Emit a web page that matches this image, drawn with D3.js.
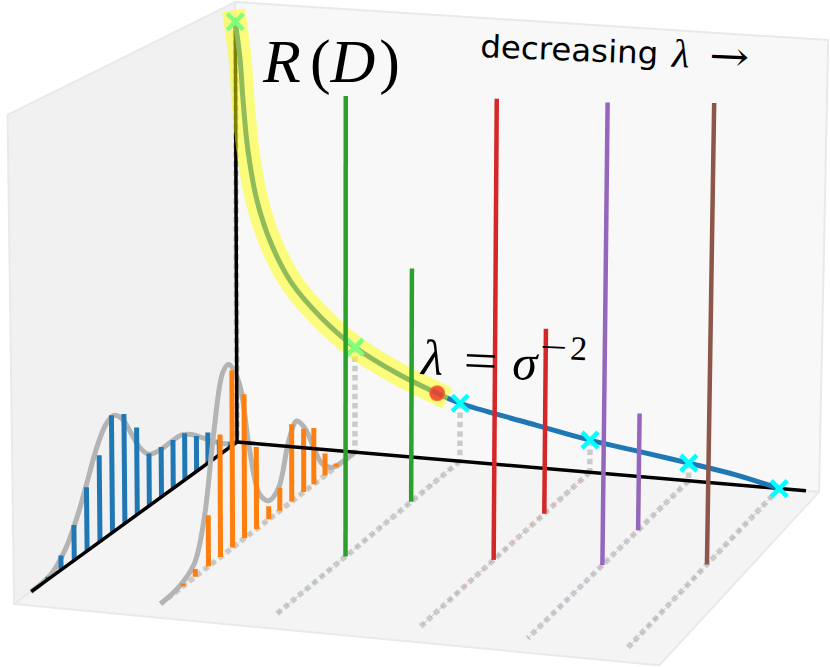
<!DOCTYPE html>
<html><head><meta charset="utf-8">
<script src="https://cdn.jsdelivr.net/npm/d3@7"></script>
<style>body{margin:0;background:#fff}svg{display:block}</style>
</head><body>
<svg id="chart" width="830" height="667"></svg>
<script>
// ---------------- data ----------------
// rate-distortion curve R(D)
const rdD = [0, 0.0087, 0.0138, 0.0226, 0.039, 0.0667, 0.104, 0.160, 0.222, 0.300, 0.3748, 0.4174, 0.532, 0.6565, 0.7512, 0.8364, 0.923, 1.0];
const rdR = [1.0, 0.911, 0.8175, 0.700, 0.5836, 0.4793, 0.3924, 0.3145, 0.2516, 0.1976, 0.1577, 0.1384, 0.1078, 0.0764, 0.0584, 0.0418, 0.0232, 0];
// cyan markers on the curve (one per reconstruction distribution)
const markD = [0, 0.222, 0.4174, 0.6565, 0.8364, 1.0];
const markR = [1.0, 0.2516, 0.1384, 0.0764, 0.0418, 0];
// highlighted optimum lambda = sigma^-2
const optD = [0.3748];
const optR = [0.1577];
// source distribution (blue) at D = 0
const srcPos  = [0.035,0.094,0.154,0.213,0.273,0.332,0.391,0.451,0.510,0.570,0.629,0.688,0.748,0.807,0.867,0.926];
const srcProb = [0.011,0.037,0.073,0.084,0.110,0.113,0.116,0.121,0.200,0.250,0.266,0.195,0.143,0.079,0.032,0.006];
const srcKdePos = [0,0.021,0.075,0.129,0.183,0.236,0.290,0.344,0.397,0.451,0.494,0.537,0.580,0.618,0.655,0.698,0.741,0.789,0.849,0.913,1.0];
const srcKdeVal = [0,0.004,0.021,0.044,0.070,0.095,0.111,0.112,0.111,0.119,0.148,0.196,0.243,0.262,0.254,0.217,0.159,0.095,0.037,0.006,0];
// reconstruction (orange) at second marker
const recPos  = [0.106,0.168,0.229,0.284,0.348,0.411,0.469,0.532,0.593,0.653,0.713,0.772,0.836,0.894];
const recProb = [0.008,0.052,0.132,0.148,0.179,0.053,0.030,0.187,0.326,0.398,0.274,0.114,0.017,0.006];
const recKdePos = [0,0.073,0.129,0.185,0.229,0.278,0.321,0.364,0.417,0.469,0.516,0.567,0.618,0.669,0.698,0.743,0.792,0.841,0.917,1.0];
const recKdeVal = [0,0,0.006,0.034,0.086,0.148,0.178,0.145,0.055,0.043,0.074,0.195,0.360,0.416,0.407,0.289,0.113,0.030,0.005,0];
// spike reconstructions for decreasing lambda
const greenPos = [0.2853, 0.6455],  greenProb = [0.539, 1.018];
const redPos = [0.2866, 0.5875],    redProb = [0.4255, 1.0185];
const purplePos = [0.3365, 0.5613], purpleProb = [0.2667, 1.020];
const brownPos = [0.5032],          brownProb = [1.019];
const distColors = ['#ff7f0e', '#2ca02c', '#d62728', '#9467bd', '#8c564b'];

// ---------------- projection ----------------
const cam = {o:[237,442,1], u:[559.1,36.2,-0.028], v:[-224.36,98.7,-0.1048], w:[-6,-440,-0.018]};
function proj(u,v,w){
  const X = cam.o[0]+cam.u[0]*u+cam.v[0]*v+cam.w[0]*w;
  const Y = cam.o[1]+cam.u[1]*u+cam.v[1]*v+cam.w[1]*w;
  const W = cam.o[2]+cam.u[2]*u+cam.v[2]*v+cam.w[2]*w;
  return [X/W, Y/W];
}
const sD = d3.scaleLinear().domain([0,1]).range([0,0.9334]);
const sY = d3.scaleLinear().domain([0,1]).range([0,0.931]);
const sR = d3.scaleLinear().domain([0,1]).range([0,0.956]);
const P = (d,y,r) => proj(sD(d), sY(y), sR(r));

const svg = d3.select('#chart');
const line = d3.line();
const smooth = d3.line().curve(d3.curveCatmullRom.alpha(0.5));

// panes
const panes = [
  {pts:[[0,0,0],[0,1,0],[0,1,1],[0,0,1]], fill:'#f1f1f1'},
  {pts:[[0,0,0],[1,0,0],[1,0,1],[0,0,1]], fill:'#f8f8f8'},
  {pts:[[0,0,0],[1,0,0],[1,1,0],[0,1,0]], fill:'#f4f4f4'}
];
svg.selectAll('path.pane').data(panes).join('path')
  .attr('d', p => line(p.pts.map(q => proj(q[0],q[1],q[2]))) + 'Z')
  .attr('fill', p => p.fill).attr('stroke', '#e9e9e9').attr('stroke-width', 2).attr('stroke-linejoin','round');

// depth baselines (dotted) for reconstruction distributions
const baseD = markD.slice(1);
svg.selectAll('path.base').data(baseD).join('path')
  .attr('d', d => line([P(d,0,0), P(d,1,0)]))
  .attr('fill','none').attr('stroke','#cbcbcb').attr('stroke-width',5.5).attr('stroke-dasharray','5.5,3.8');
svg.selectAll('path.basec').data(baseD).join('path')
  .attr('d', d => line([P(d,0,0), P(d,1,0)]))
  .attr('fill','none').attr('stroke',(d,i)=>distColors[i]).attr('stroke-opacity',0.3)
  .attr('stroke-width',1).attr('stroke-dasharray','6,5');

// vertical dotted drops from markers
svg.selectAll('path.drop').data(markD.map((d,i)=>[d,markR[i]]).filter(p=>p[1]>0)).join('path')
  .attr('d', p => line([P(p[0],0,p[1]), P(p[0],0,0)]))
  .attr('fill','none').attr('stroke','#cbcbcb').attr('stroke-width',5.5).attr('stroke-dasharray','5.5,3.8');

// source KDE + bars
svg.append('path').attr('d', smooth(srcKdePos.map((y,i)=>P(0,y,srcKdeVal[i]))))
  .attr('fill','none').attr('stroke','#b4b4b4').attr('stroke-width',5);
svg.selectAll('path.src').data(srcPos).join('path')
  .attr('d',(y,i)=>line([P(0,y,0),P(0,y,srcProb[i])]))
  .attr('stroke','#1f77b4').attr('stroke-width',5);
svg.append('path').attr('d', line([P(0,0,0),P(0,1,0)]))
  .attr('stroke','#000').attr('stroke-width',3.5);

// reconstruction KDE + bars
const dRec = markD[1];
svg.append('path').attr('d', smooth(recKdePos.map((y,i)=>P(dRec,y,recKdeVal[i]))))
  .attr('fill','none').attr('stroke','#b4b4b4').attr('stroke-width',5);
svg.selectAll('path.rec').data(recPos).join('path')
  .attr('d',(y,i)=>line([P(dRec,y,0),P(dRec,y,recProb[i])]))
  .attr('stroke','#ff7f0e').attr('stroke-width',5);

// axes
svg.append('path').attr('d', line([P(0,0,0),P(1.048,0,0)])).attr('stroke','#000').attr('stroke-width',3.5);
svg.append('path').attr('d', line([P(0,0,0),P(0,0,1.009)])).attr('stroke','#000').attr('stroke-width',3.5);

// R(D) curve
svg.append('path').attr('d', smooth(rdD.map((d,i)=>P(d,0,rdR[i]))))
  .attr('fill','none').attr('stroke','#1f77b4').attr('stroke-width',5);

// markers
const xs = 8;
svg.selectAll('path.mk').data(markD.map((d,i)=>P(d,0,markR[i]))).join('path')
  .attr('d', p => `M${p[0]-xs},${p[1]-xs}L${p[0]+xs},${p[1]+xs}M${p[0]-xs},${p[1]+xs}L${p[0]+xs},${p[1]-xs}`)
  .attr('stroke','#00ffff').attr('stroke-width',4.5).attr('fill','none');

// yellow highlight
const hiIdx = rdD.map((d,i)=>i).filter(i => rdD[i] <= optD[0]);
svg.append('path').attr('d', smooth(hiIdx.map(i=>P(rdD[i],0,rdR[i]))))
  .attr('fill','none').attr('stroke','#ffff00').attr('stroke-opacity',0.5)
  .attr('stroke-width',23).attr('stroke-linecap','square');

// optimum dot
const op = P(optD[0],0,optR[0]);
svg.append('circle').attr('cx',op[0]).attr('cy',op[1]).attr('r',7)
  .attr('fill','#e8302a').attr('fill-opacity',0.8).attr('stroke','#f25a2a').attr('stroke-width',2).attr('stroke-opacity',0.8);

// spikes
const spikes = [
  {d: markD[2], pos: greenPos, prob: greenProb, c: distColors[1]},
  {d: markD[3], pos: redPos, prob: redProb, c: distColors[2]},
  {d: markD[4], pos: purplePos, prob: purpleProb, c: distColors[3]},
  {d: markD[5], pos: brownPos, prob: brownProb, c: distColors[4]}
];
spikes.forEach(s => {
  svg.selectAll(null).data(s.pos).join('path')
    .attr('d',(y,i)=>line([P(s.d,y,0),P(s.d,y,s.prob[i])]))
    .attr('stroke',s.c).attr('stroke-width',4.5);
});

// text
const serif = "'Liberation Serif','DejaVu Serif',serif";
const tR = svg.append('text').attr('x',263).attr('y',82).attr('font-family',serif).attr('font-size',62).attr('fill','#000');
tR.append('tspan').attr('font-style','italic').text('R');
tR.append('tspan').attr('dx',9).text('(');
tR.append('tspan').attr('font-style','italic').text('D');
tR.append('tspan').attr('dx',4).text(')');

const tDec = svg.append('g').attr('transform','rotate(2.3,480,56)').attr('fill','#000');
tDec.append('text').attr('x',480).attr('y',57).attr('font-family',"'DejaVu Sans',sans-serif")
  .attr('font-size',31).attr('textLength',178).attr('lengthAdjust','spacingAndGlyphs').text('decreasing');
tDec.append('text').attr('x',672).attr('y',59).attr('font-family',serif).attr('font-style','italic')
  .attr('font-size',40).text('λ');
tDec.append('text').attr('x',709).attr('y',60).attr('font-family',"'DejaVu Serif',serif")
  .attr('font-size',40).attr('textLength',40).attr('lengthAdjust','spacingAndGlyphs').text('→');

const tL = svg.append('g').attr('transform','rotate(2.5,422,374)').attr('font-family',serif).attr('fill','#000');
tL.append('text').attr('x',421).attr('y',374).attr('font-size',50).attr('font-style','italic').text('λ');
tL.append('text').attr('x',463).attr('y',375).attr('font-size',50).attr('textLength',34).attr('lengthAdjust','spacingAndGlyphs').text('=');
tL.append('text').attr('x',512).attr('y',375).attr('font-size',50).attr('font-style','italic').text('σ');
tL.append('text').attr('x',539).attr('y',353).attr('font-size',34).attr('textLength',27).attr('lengthAdjust','spacingAndGlyphs').text('−');
tL.append('text').attr('x',569).attr('y',353).attr('font-size',34).text('2');
</script>
</body></html>
